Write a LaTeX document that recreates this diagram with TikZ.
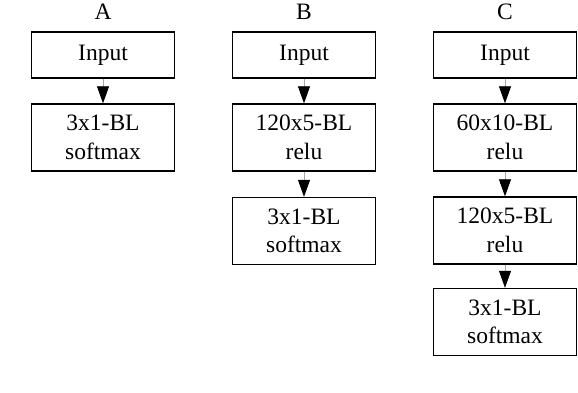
\documentclass[tikz,border=0pt]{standalone}
\usepackage{fontspec}
\setmainfont{Liberation Serif}
\usetikzlibrary{arrows.meta}
\begin{document}
\begin{tikzpicture}[x=1pt,y=-1pt,
  layer/.style={draw=black,line width=1.4pt,minimum width=143pt,align=center,inner sep=0pt,
    font=\fontsize{23.5}{28.5}\selectfont},
  inbox/.style={layer,minimum height=46pt},
  hidbox/.style={layer,minimum height=67pt},
  colhead/.style={font=\fontsize{23.5}{28}\selectfont,inner sep=0pt},
  conn/.style={draw=gray!70,line width=0.8pt,-{Triangle[length=17pt,width=12pt,fill=black,color=black]}}
]
\useasboundingbox (0,0) rectangle (578,392);
% column A
\node[colhead] (ha) at (103,12) {A};
\node[inbox] (a1) at (103,55) {Input};
\node[hidbox] (a2) at (103,137.5) {3x1-BL\\softmax};
\draw[conn] (a1) -- (a2);
% column B
\node[colhead] (hb) at (304,12) {B};
\node[inbox] (b1) at (304,55) {Input};
\node[hidbox] (b2) at (304,137.5) {120x5-BL\\relu};
\node[hidbox] (b3) at (304,231) {3x1-BL\\softmax};
\draw[conn] (b1) -- (b2);
\draw[conn] (b2) -- (b3);
% column C
\node[colhead] (hc) at (505,12) {C};
\node[inbox] (c1) at (505,55) {Input};
\node[hidbox] (c2) at (505,137.5) {60x10-BL\\relu};
\node[hidbox] (c3) at (505,230.5) {120x5-BL\\relu};
\node[hidbox] (c4) at (505,322) {3x1-BL\\softmax};
\draw[conn] (c1) -- (c2);
\draw[conn] (c2) -- (c3);
\draw[conn] (c3) -- (c4);
\end{tikzpicture}
\end{document}
